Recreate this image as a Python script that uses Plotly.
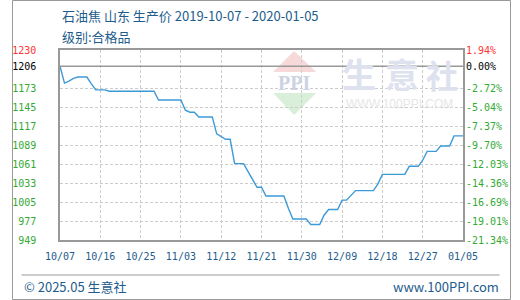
import pandas as pd
import plotly.graph_objects as go

# ---------------- data ----------------
start_date = "2019-10-07"
prices = [
    1206, 1181, 1184, 1188, 1190, 1190, 1190, 1180, 1171, 1171,
    1171, 1169, 1169, 1169, 1169, 1169, 1169, 1169, 1169, 1169,
    1169, 1169, 1156, 1156, 1156, 1156, 1156, 1156, 1141, 1138,
    1138, 1131, 1131, 1131, 1131, 1106, 1102, 1098, 1098, 1062,
    1062, 1062, 1050, 1038, 1027, 1027, 1014, 1014, 1014, 1014,
    1014, 996, 980, 980, 980, 980, 972, 972, 972, 986,
    994, 994, 994, 1008, 1008, 1015, 1022, 1022, 1022, 1022,
    1022, 1032, 1046, 1046, 1046, 1046, 1046, 1046, 1058, 1058,
    1058, 1067, 1080, 1080, 1080, 1088, 1088, 1088, 1103, 1103,
    1103,
]
dates = pd.date_range(start_date, periods=len(prices), freq="D")

x_tick_dates = ["2019-10-07", "2019-10-16", "2019-10-25", "2019-11-03", "2019-11-12",
                "2019-11-21", "2019-11-30", "2019-12-09", "2019-12-18", "2019-12-27",
                "2020-01-05"]
x_tick_labels = ["10/07", "10/16", "10/25", "11/03", "11/12", "11/21", "11/30",
                 "12/09", "12/18", "12/27", "01/05"]

y_ticks = [1230, 1206, 1173, 1145, 1117, 1089, 1061, 1033, 1005, 977, 949]
pct_labels = ["1.94%", "0.00%", "-2.72%", "-5.04%", "-7.37%", "-9.70%", "-12.03%",
              "-14.36%", "-16.69%", "-19.01%", "-21.34%"]
base_price = 1206

title_text = "石油焦 山东 生产价 2019-10-07 - 2020-01-05"
subtitle_text = "级别:合格品"
footer_left = "© 2025.05 生意社"
footer_right = "www.100PPI.com"

# ---------------- styling ----------------
W, H = 520, 300
ML, MR, MT, MB = 50, 50, 50, 60
PW, PH = W - ML - MR, H - MT - MB

def px_x(px):
    return (px - ML) / PW

def px_y(py):
    return (H - MB - py) / PH

RED = "#ff3333"
GREEN = "#33aa33"
BLUE_TXT = "#1e5c8c"
LINE = "#3d9ad8"
GRID = "#cccccc"
FRAME = "#999999"

def colored(txt, i):
    c = RED if i == 0 else ("#000000" if i == 1 else GREEN)
    return f"<span style='color:{c}'>{txt}</span>"

left_text = [colored(str(v), i) for i, v in enumerate(y_ticks)]
right_text = [colored(t, i) for i, t in enumerate(pct_labels)]

fig = go.Figure()
fig.add_trace(go.Scatter(x=dates, y=prices, mode="lines",
                         line=dict(color=LINE, width=1.4), showlegend=False,
                         hoverinfo="skip"))
# invisible trace for the right axis
fig.add_trace(go.Scatter(x=[dates[0]], y=[base_price], yaxis="y2", mode="markers",
                         marker=dict(opacity=0), showlegend=False, hoverinfo="skip"))

mono = "DejaVu Sans Mono"
cjk = "Noto Sans CJK SC"

fig.update_layout(
    width=W, height=H,
    margin=dict(l=ML, r=MR, t=MT, b=MB),
    paper_bgcolor="white", plot_bgcolor="white",
    font=dict(family=cjk),
    xaxis=dict(
        range=[dates[0], dates[-1]], tickvals=x_tick_dates, ticktext=x_tick_labels,
        tickfont=dict(family=mono, size=10, color=BLUE_TXT),
        showgrid=True, gridcolor=GRID, griddash="3px,2px", gridwidth=1,
        showline=True, linecolor=FRAME, linewidth=1.5, mirror=True,
        ticks="", zeroline=False, ticklabelstandoff=6,
    ),
    yaxis=dict(
        range=[y_ticks[-1], y_ticks[0]], tickvals=y_ticks, ticktext=left_text,
        tickfont=dict(family=mono, size=10),
        showgrid=True, gridcolor=GRID, griddash="3px,2px", gridwidth=1,
        showline=True, linecolor=FRAME, linewidth=1.5, mirror=True,
        ticks="", zeroline=False, ticklabelstandoff=20,
    ),
    yaxis2=dict(
        range=[y_ticks[-1], y_ticks[0]], tickvals=y_ticks, ticktext=right_text,
        tickfont=dict(family=mono, size=10),
        overlaying="y", side="right", showgrid=False, zeroline=False,
        ticks="", ticklabelstandoff=2,
    ),
)

shapes = []
# base price solid line
shapes.append(dict(type="line", xref="paper", yref="y", x0=0, x1=1,
                   y0=base_price, y1=base_price, line=dict(color=FRAME, width=1.5)))
# outer border
shapes.append(dict(type="rect", xref="paper", yref="paper",
                   x0=px_x(0.5), x1=px_x(519.5), y0=px_y(299.5), y1=px_y(0.5),
                   line=dict(color=FRAME, width=1), layer="below"))
# footer separator
shapes.append(dict(type="line", xref="paper", yref="paper",
                   x0=px_x(10), x1=px_x(508), y0=px_y(275), y1=px_y(275),
                   line=dict(color=FRAME, width=1)))
# watermark triangles
shapes.append(dict(type="path", xref="paper", yref="paper",
                   path=f"M {px_x(294)} {px_y(51)} L {px_x(317)} {px_y(72)} L {px_x(272)} {px_y(72)} Z",
                   fillcolor="#f7d9d9", line=dict(width=0), layer="below"))
shapes.append(dict(type="path", xref="paper", yref="paper",
                   path=f"M {px_x(272)} {px_y(93)} L {px_x(317)} {px_y(93)} L {px_x(294)} {px_y(115)} Z",
                   fillcolor="#d9efd9", line=dict(width=0), layer="below"))
fig.update_layout(shapes=shapes)

annotations = [
    dict(text=title_text, x=px_x(50), y=px_y(15), xref="paper", yref="paper",
         xanchor="left", yanchor="middle", showarrow=False,
         font=dict(family=cjk, size=13, color=BLUE_TXT)),
    dict(text=subtitle_text, x=px_x(50), y=px_y(36), xref="paper", yref="paper",
         xanchor="left", yanchor="middle", showarrow=False,
         font=dict(family=cjk, size=13, color=BLUE_TXT)),
    dict(text=footer_left, x=px_x(10), y=px_y(286), xref="paper", yref="paper",
         xanchor="left", yanchor="middle", showarrow=False,
         font=dict(family=cjk, size=13, color=BLUE_TXT)),
    dict(text=footer_right, x=px_x(510), y=px_y(286), xref="paper", yref="paper",
         xanchor="right", yanchor="middle", showarrow=False,
         font=dict(family=cjk, size=13, color=BLUE_TXT)),
    # watermark
    dict(text="<b>PPI</b>", x=px_x(294), y=px_y(83), xref="paper", yref="paper",
         xanchor="center", yanchor="middle", showarrow=False,
         font=dict(family="Liberation Serif", size=20, color="#ccd3e3")),
    dict(text="<b>生</b>", x=px_x(362), y=px_y(74), xref="paper", yref="paper",
         xanchor="center", yanchor="middle", showarrow=False,
         font=dict(family=cjk, size=34, color="#dde2ee")),
    dict(text="<b>意</b>", x=px_x(406), y=px_y(74), xref="paper", yref="paper",
         xanchor="center", yanchor="middle", showarrow=False,
         font=dict(family=cjk, size=34, color="#dde2ee")),
    dict(text="<b>社</b>", x=px_x(448), y=px_y(74), xref="paper", yref="paper",
         xanchor="center", yanchor="middle", showarrow=False,
         font=dict(family=cjk, size=32, color="#dde2ee")),
    dict(text="WWW.100PPI.COM", x=px_x(346), y=px_y(104), xref="paper", yref="paper",
         xanchor="left", yanchor="middle", showarrow=False,
         font=dict(family="Liberation Sans", size=12, color="#e6e6e6")),
]
fig.update_layout(annotations=annotations)

fig.write_html("out.html")
